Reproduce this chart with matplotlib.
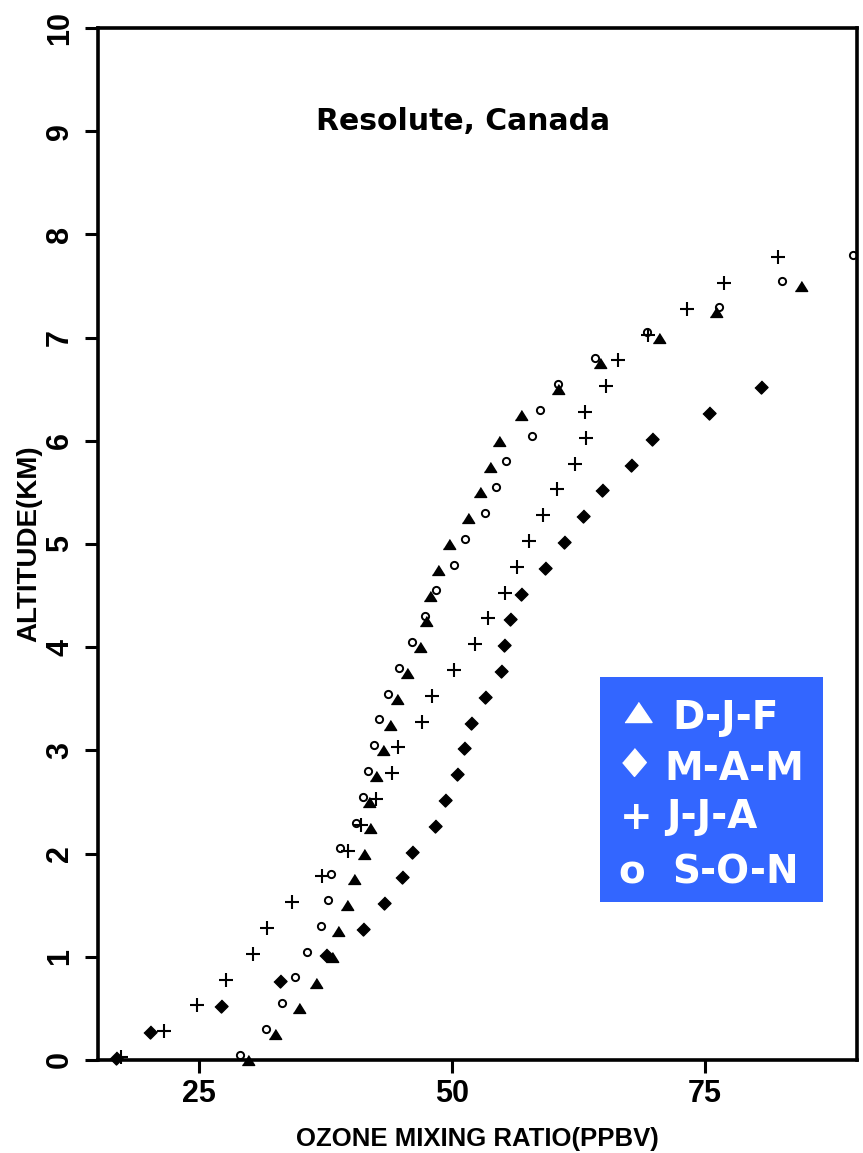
import matplotlib
matplotlib.use("Agg")
import matplotlib.pyplot as plt
from matplotlib.patches import Rectangle
from matplotlib import font_manager

# ---------------- data ----------------
djf_alt = [0.00, 0.25, 0.50, 0.75, 1.00, 1.25, 1.50, 1.75, 2.00, 2.25, 2.50, 2.75,
           3.00, 3.25, 3.50, 3.75, 4.00, 4.25, 4.50, 4.75, 5.00, 5.25, 5.50, 5.75,
           6.00, 6.25, 6.50, 6.75, 7.00, 7.25, 7.50]
djf_o3 = [29.8, 32.5, 34.9, 36.5, 38.1, 38.7, 39.6, 40.3, 41.3, 41.9, 41.8, 42.5,
          43.2, 43.9, 44.5, 45.5, 46.8, 47.4, 47.8, 48.6, 49.7, 51.6, 52.7, 53.7,
          54.6, 56.8, 60.5, 64.6, 70.4, 76.1, 84.5]

mam_alt = [0.02, 0.27, 0.52, 0.77, 1.02, 1.27, 1.52, 1.77, 2.02, 2.27, 2.52, 2.77,
           3.02, 3.27, 3.52, 3.77, 4.02, 4.27, 4.52, 4.77, 5.02, 5.27, 5.52, 5.77,
           6.02, 6.27, 6.52]
mam_o3 = [16.8, 20.1, 27.2, 33.0, 37.5, 41.2, 43.3, 45.0, 46.0, 48.3, 49.3, 50.5,
          51.2, 51.9, 53.2, 54.8, 55.1, 55.7, 56.8, 59.2, 61.0, 62.9, 64.8, 67.7,
          69.7, 75.4, 80.5]

jja_alt = [0.03, 0.28, 0.53, 0.78, 1.03, 1.28, 1.53, 1.78, 2.03, 2.28, 2.53, 2.78,
           3.03, 3.28, 3.53, 3.78, 4.03, 4.28, 4.53, 4.78, 5.03, 5.28, 5.53, 5.78,
           6.03, 6.28, 6.53, 6.78, 7.03, 7.28, 7.53, 7.78]
jja_o3 = [17.3, 21.5, 24.8, 27.6, 30.3, 31.7, 34.2, 37.1, 39.7, 41.0, 42.5, 44.1,
          44.6, 47.0, 48.0, 50.2, 52.3, 53.5, 55.2, 56.4, 57.6, 59.0, 60.4, 62.1,
          63.2, 63.1, 65.2, 66.4, 69.3, 73.2, 76.9, 82.2]

son_alt = [0.05, 0.30, 0.55, 0.80, 1.05, 1.30, 1.55, 1.80, 2.05, 2.30, 2.55, 2.80,
           3.05, 3.30, 3.55, 3.80, 4.05, 4.30, 4.55, 4.80, 5.05, 5.30, 5.55, 5.80,
           6.05, 6.30, 6.55, 6.80, 7.05, 7.30, 7.55, 7.80]
son_o3 = [29.0, 31.6, 33.2, 34.5, 35.7, 37.0, 37.7, 38.0, 38.9, 40.5, 41.2, 41.7,
          42.3, 42.8, 43.7, 44.7, 46.0, 47.3, 48.4, 50.2, 51.3, 53.2, 54.3, 55.3,
          57.9, 58.7, 60.5, 64.1, 69.2, 76.4, 82.6, 89.6]

season_labels = ["D-J-F", "M-A-M", "J-J-A", "S-O-N"]
x_ticks = [25, 50, 75]
y_ticks = list(range(0, 11))
title_text = "Resolute, Canada"
x_label = "OZONE MIXING RATIO(PPBV)"
y_label = "ALTITUDE(KM)"

# ---------------- fonts ----------------
avail = {f.name for f in font_manager.fontManager.ttflist}
narrow = "Liberation Sans Narrow" if "Liberation Sans Narrow" in avail else "Liberation Sans"
wide = "DejaVu Sans"

W, H = 863, 1153
fig = plt.figure(figsize=(W / 100, H / 100), dpi=100)
L, R, T, B = 98, 857, 28, 1060
ax = fig.add_axes([L / W, 1 - B / H, (R - L) / W, (B - T) / H])


def axx(px):
    return (px - L) / (R - L)


def axy(py):
    return (B - py) / (B - T)


tri = [(-1, -0.8), (1, -0.8), (0, 0.8)]
dia = [(0, 1), (1, 0), (0, -1), (-1, 0)]

common = dict(linestyle="none", color="black", zorder=2.4, clip_on=False)
ax.plot(djf_o3, djf_alt, marker=tri, ms=8.9, **common)
ax.plot(mam_o3, mam_alt, marker=dia, ms=9.4, **common)
ax.plot(jja_o3, jja_alt, marker="+", ms=9.6, mew=1.5, **common)
ax.plot(son_o3, son_alt, marker="o", ms=5.2, mew=1.4, mfc="none", mec="black",
        linestyle="none", zorder=2.4, clip_on=False)

ax.set_xlim(15, 90)
ax.set_ylim(0, 10)
ax.set_xticks(x_ticks)
ax.set_yticks(y_ticks)
ax.set_xticklabels([str(v) for v in x_ticks], fontfamily=narrow, fontweight="bold", fontsize=22)
ax.set_yticklabels([str(v) for v in y_ticks], fontfamily=narrow, fontweight="bold", fontsize=22,
                   rotation=90, va="center")
ax.tick_params(axis="both", direction="out", length=9.5, width=2.2, color="black")
ax.tick_params(axis="x", pad=4)
ax.tick_params(axis="y", pad=7)
for s in ax.spines.values():
    s.set_linewidth(2.6)
    s.set_color("black")
    s.set_zorder(2.5)

ax.set_xlabel(x_label, fontfamily=narrow, fontweight="bold", fontsize=18.5, labelpad=13)
ax.set_ylabel(y_label, fontfamily=narrow, fontweight="bold", fontsize=20, labelpad=2)

ax.text(axx(463), axy(130), title_text, transform=ax.transAxes, ha="center", va="baseline",
        fontfamily=wide, fontweight="bold", fontsize=21.5)

# legend box
ax.add_patch(Rectangle((axx(600), axy(902)), axx(823) - axx(600), axy(677) - axy(902),
                       transform=ax.transAxes, facecolor="#3366FF", edgecolor="none",
                       zorder=5, clip_on=False))
leg_tri = [(-1, -0.74), (1, -0.74), (0, 0.74)]
leg_dia = [(0, 1), (0.85, 0), (0, -1), (-0.85, 0)]
ax.plot([axx(638)], [axy(712)], marker=leg_tri, ms=19.5, color="white", linestyle="none",
        transform=ax.transAxes, zorder=6, clip_on=False)
ax.plot([axx(634)], [axy(762)], marker=leg_dia, ms=20, color="white", linestyle="none",
        transform=ax.transAxes, zorder=6, clip_on=False)
ax.text(axx(636), axy(818), "+", transform=ax.transAxes, ha="center", va="center",
        color="white", fontfamily=wide, fontweight="bold", fontsize=28, zorder=6)
ax.text(axx(632), axy(883), "o", transform=ax.transAxes, ha="center", va="baseline",
        color="white", fontfamily=wide, fontweight="bold", fontsize=28, zorder=6)

label_pos = [(672, 729), (664, 780), (666, 828), (672, 883)]
for lab, (px, py) in zip(season_labels, label_pos):
    ax.text(axx(px), axy(py), lab, transform=ax.transAxes, ha="left", va="baseline",
            color="white", fontfamily=wide, fontweight="bold", fontsize=28, zorder=6)

fig.savefig("out.png", dpi=100)
